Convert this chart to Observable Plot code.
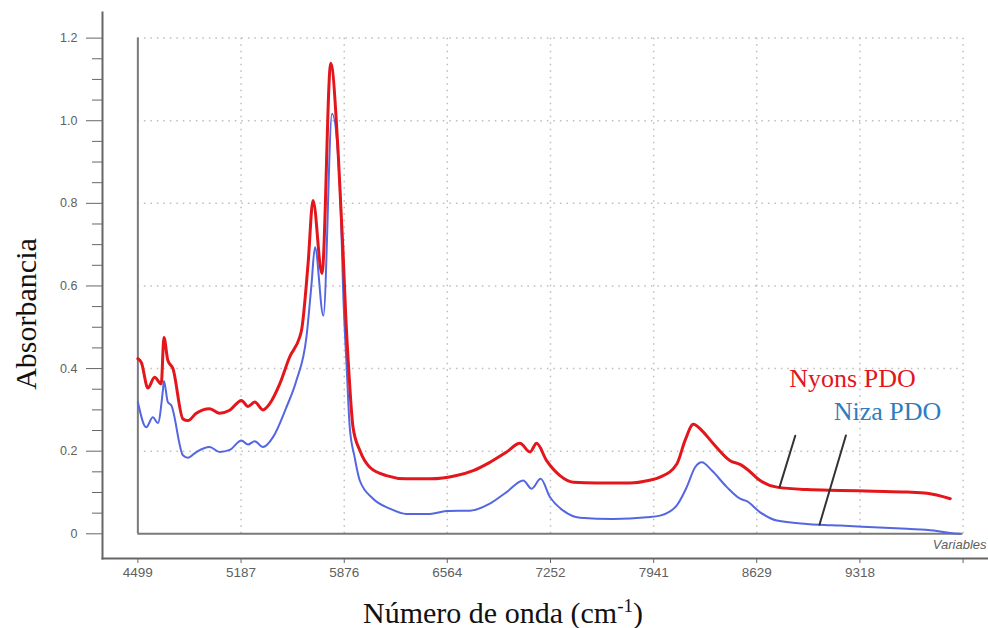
<!DOCTYPE html>
<html>
<head>
<meta charset="utf-8">
<script src="https://cdn.jsdelivr.net/npm/d3@7"></script>
<script src="https://cdn.jsdelivr.net/npm/@observablehq/plot@0.6"></script>
<style>
  html, body { margin: 0; padding: 0; background: #fff; }
  #chart svg { display: block; }
</style>
</head>
<body>
<div id="chart"></div>
<script>
// ---- data ----
const nyonsWavenumber = [4499, 4522, 4566, 4611, 4655, 4673, 4699, 4733, 4800, 4833, 4889, 4978, 5045, 5112, 5190, 5234, 5279, 5334, 5379, 5446, 5512, 5579, 5591, 5635, 5668, 5728, 5786, 5835, 5868, 5886, 5906, 5935, 5980, 6047, 6158, 6292, 6448, 6626, 6737, 6848, 6960, 7049, 7116, 7160, 7227, 7316, 7405, 7561, 7784, 7906, 7984, 8096, 8151, 8206, 8263, 8340, 8452, 8518, 8563, 8652, 8763, 8964, 9186, 9409, 9632, 9766, 9921];
const nyonsAbsorbance = [0.424, 0.415, 0.353, 0.379, 0.363, 0.475, 0.420, 0.400, 0.278, 0.274, 0.292, 0.303, 0.292, 0.299, 0.323, 0.308, 0.319, 0.300, 0.315, 0.363, 0.428, 0.476, 0.492, 0.654, 0.807, 0.630, 1.139, 0.928, 0.686, 0.530, 0.400, 0.258, 0.202, 0.161, 0.141, 0.133, 0.133, 0.141, 0.153, 0.173, 0.198, 0.219, 0.198, 0.219, 0.177, 0.141, 0.125, 0.123, 0.123, 0.129, 0.137, 0.169, 0.226, 0.265, 0.250, 0.218, 0.177, 0.168, 0.157, 0.129, 0.113, 0.107, 0.105, 0.103, 0.101, 0.098, 0.085];

const nizaWavenumber = [4499, 4555, 4599, 4633, 4666, 4673, 4699, 4722, 4800, 4833, 4889, 4978, 5045, 5112, 5190, 5234, 5279, 5334, 5401, 5490, 5557, 5624, 5657, 5681, 5737, 5795, 5846, 5873, 5893, 5913, 5946, 5980, 6069, 6180, 6292, 6448, 6559, 6715, 6848, 6960, 7071, 7127, 7187, 7249, 7338, 7450, 7672, 7895, 7984, 8096, 8162, 8218, 8263, 8330, 8430, 8518, 8563, 8652, 8763, 8964, 9048, 9186, 9409, 9632, 9810, 9921, 9988];
const nizaAbsorbance = [0.319, 0.258, 0.282, 0.268, 0.347, 0.370, 0.319, 0.311, 0.190, 0.184, 0.198, 0.210, 0.198, 0.203, 0.226, 0.216, 0.224, 0.210, 0.234, 0.306, 0.371, 0.476, 0.600, 0.694, 0.528, 1.017, 0.850, 0.550, 0.400, 0.258, 0.185, 0.129, 0.085, 0.061, 0.048, 0.048, 0.055, 0.056, 0.073, 0.101, 0.129, 0.109, 0.133, 0.089, 0.056, 0.039, 0.036, 0.040, 0.044, 0.069, 0.113, 0.161, 0.173, 0.153, 0.113, 0.085, 0.079, 0.052, 0.032, 0.024, 0.022, 0.020, 0.016, 0.012, 0.008, 0.002, 0.000];

const xTickLabels = ["4499", "5187", "5876", "6564", "7252", "7941", "8629", "9318"];
const xTickValues = [4499, 5187.7, 5876.4, 6564.1, 7252.8, 7941.5, 8629.2, 9317.9];
const xGridEnd = [10006.6];            // last (unlabelled) grid position
const yTickValues = [0, 0.2, 0.4, 0.6, 0.8, 1.0, 1.2];
const yMinorValues = [0.05, 0.1, 0.15, 0.25, 0.3, 0.35, 0.45, 0.5, 0.55, 0.65, 0.7, 0.75, 0.85, 0.9, 0.95, 1.05, 1.1, 1.15];

const seriesNames = ["Nyons PDO", "Niza PDO"];
const leaderWavenumber = [8781, 9048];   // where each pointer line touches its curve

// ---- build tables ----
const nyons = nyonsWavenumber.map((x, i) => ({x, y: nyonsAbsorbance[i]}));
const niza = nizaWavenumber.map((x, i) => ({x, y: nizaAbsorbance[i]}));
function valueAt(series, x) {
  const i = d3.bisector(d => d.x).left(series, x);
  if (i <= 0) return series[0].y;
  if (i >= series.length) return series[series.length - 1].y;
  const a = series[i - 1], b = series[i];
  return a.y + (b.y - a.y) * (x - a.x) / (b.x - a.x);
}
const leaders = [
  {name: seriesNames[0], x: leaderWavenumber[0], y: valueAt(nyons, leaderWavenumber[0])},
  {name: seriesNames[1], x: leaderWavenumber[1], y: valueAt(niza, leaderWavenumber[1])}
];

const RED = "#e3161c", BLUE = "#5466e0", BLUE_TXT = "#2f7dc0";
const AXIS = "#7a7a7a", GRID = "#bdbdbd", LABEL = "#606060";
const xGrid = xTickValues.concat(xGridEnd);
const xFirst = xTickValues[0], xLast = xGridEnd[0];
const yLo = d3.min(yTickValues), yHi = d3.max(yTickValues);

const lineShape = {draw(ctx, l) { ctx.moveTo(0, 0); ctx.lineTo(0, -l); }};

const chart = Plot.plot({
  width: 988,
  height: 628,
  marginLeft: 102,
  marginRight: 0,
  marginTop: 12,
  marginBottom: 70,
  style: {fontFamily: "'Liberation Sans', Arial, sans-serif", background: "#fff"},
  x: {domain: [4263, 10176], label: null},
  y: {domain: [-0.0598, 1.262], label: null},
  marks: [
    // dotted grid
    Plot.ruleX(xGrid.slice(1), {y1: yLo, y2: yHi, stroke: GRID, strokeWidth: 1.5, strokeDasharray: "1.5,5"}),
    Plot.ruleY(yTickValues.slice(1), {x1: xFirst, x2: xLast, stroke: GRID, strokeWidth: 1.5, strokeDasharray: "1.5,5"}),
    // inner frame
    Plot.ruleX([xFirst], {y1: yLo, y2: yHi, stroke: AXIS, strokeWidth: 2}),
    Plot.ruleY([yLo], {x1: xFirst, x2: xLast, stroke: AXIS, strokeWidth: 2}),
    // outer axes lines
    Plot.frame({anchor: "left", stroke: "#666", strokeWidth: 2}),
    Plot.frame({anchor: "bottom", stroke: "#666", strokeWidth: 2}),
    // spectra
    Plot.line(niza, {x: "x", y: "y", stroke: BLUE, strokeWidth: 2, curve: "monotone-x"}),
    Plot.line(nyons, {x: "x", y: "y", stroke: RED, strokeWidth: 3, curve: "monotone-x"}),
    // axes
    Plot.axisY(yMinorValues, {anchor: "left", label: null, tickSize: 10, tickFormat: () => "", stroke: "#666"}),
    Plot.axisY(yTickValues, {anchor: "left", label: null, tickSize: 16, tickPadding: 9, stroke: "#666", fill: LABEL, fontSize: 12.5,
      tickFormat: d => d === 0 ? "0" : d.toFixed(1)}),
    Plot.axisX(xTickValues, {anchor: "bottom", label: null, tickSize: 5, tickPadding: 4, stroke: "#666", fill: LABEL, fontSize: 13.5,
      tickFormat: (d, i) => xTickLabels[i]}),
    Plot.axisX(xGridEnd, {anchor: "bottom", label: null, tickSize: 5, tickFormat: () => "", stroke: "#666"}),
    Plot.text(["Variables"], {frameAnchor: "bottom-right", dx: -2, dy: -10, text: d => d, fontStyle: "italic",
      fontSize: 13, fill: LABEL, textAnchor: "end"}),
    // pointer lines
    Plot.vector([leaders[0]], {x: "x", y: "y", length: 54, rotate: 17, anchor: "start", shape: lineShape, stroke: "#333", strokeWidth: 2}),
    Plot.vector([leaders[1]], {x: "x", y: "y", length: 93, rotate: 16.5, anchor: "start", shape: lineShape, stroke: "#333", strokeWidth: 2}),
    // series labels
    Plot.text([leaders[0]], {x: "x", y: "y", text: "name", dx: 73, dy: -109, fill: RED, fontSize: 26,
      fontFamily: "'Liberation Serif', 'Times New Roman', serif"}),
    Plot.text([leaders[1]], {x: "x", y: "y", text: "name", dx: 68, dy: -113, fill: BLUE_TXT, fontSize: 26,
      fontFamily: "'Liberation Serif', 'Times New Roman', serif"})
  ]
});

// axis titles (serif, with superscript)
const svg = d3.select(chart);
svg.append("text")
  .attr("transform", "translate(36,314) rotate(-90)")
  .attr("text-anchor", "middle")
  .attr("font-family", "'Liberation Serif', 'Times New Roman', serif")
  .attr("font-size", 30)
  .attr("fill", "#111")
  .text("Absorbancia");
const xt = svg.append("text")
  .attr("x", 503).attr("y", 623)
  .attr("text-anchor", "middle")
  .attr("font-family", "'Liberation Serif', 'Times New Roman', serif")
  .attr("font-size", 30)
  .attr("fill", "#111");
xt.append("tspan").text("Número de onda (cm");
xt.append("tspan").attr("font-size", 19).attr("dy", -11).text("-1");
xt.append("tspan").attr("dy", 11).text(")");

document.getElementById("chart").appendChild(chart);
</script>
</body>
</html>
